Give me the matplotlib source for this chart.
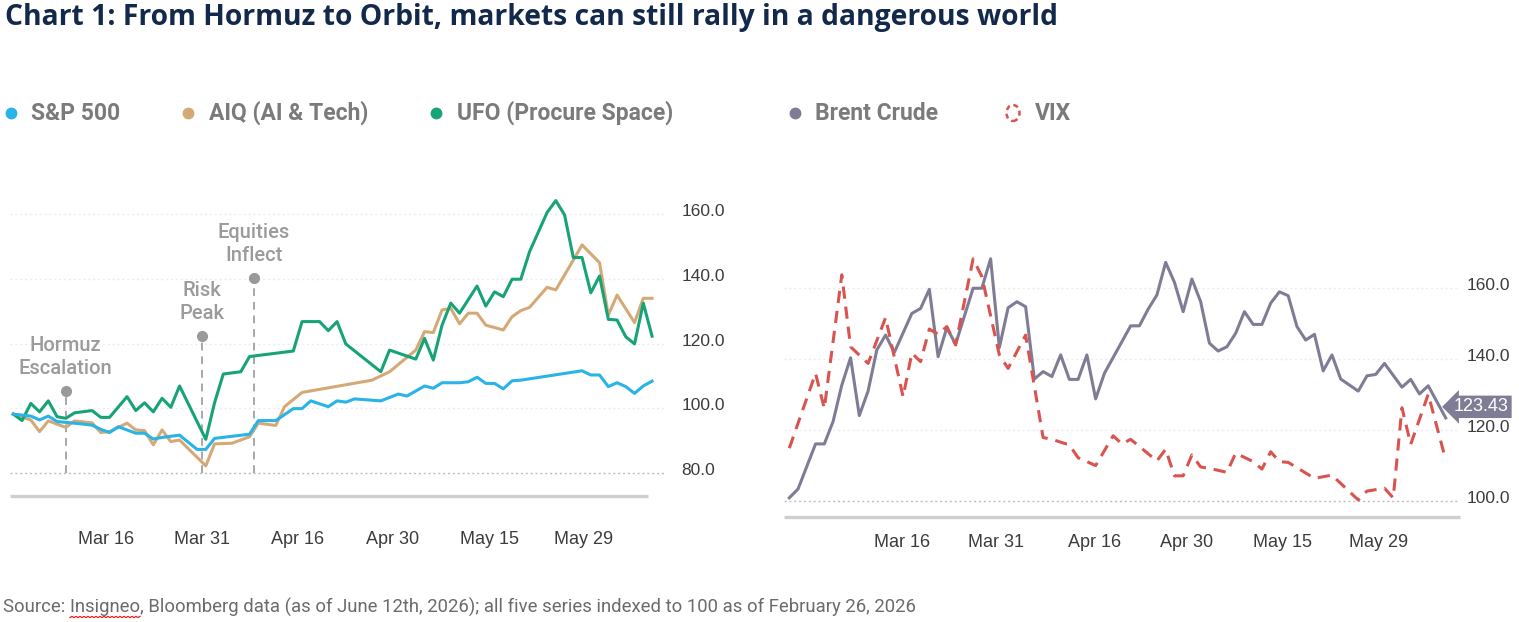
import numpy as np
import matplotlib.pyplot as plt
import matplotlib.transforms as mtransforms
from matplotlib.lines import Line2D
from matplotlib.patches import Ellipse

# ---- left panel (x = trading-day index of each vertex) ----
spx_x = [0, 2, 3, 4, 5, 7, 9, 10, 11, 12, 14, 15, 16, 17, 19, 21, 22, 23, 27, 28,
         30, 32, 33, 34, 36, 37, 38, 39, 42, 44, 45, 47, 48, 49, 51, 52, 53, 54, 55,
         56, 57, 58, 65, 66, 67, 68, 69, 70, 71, 72, 73]
spx_y = [98.2, 97.6, 96.4, 97.6, 95.9, 95.4, 94.8, 93.5, 92.5, 94.3, 92.3, 92.3, 90.5,
         91.0, 91.7, 87.3, 87.3, 90.7, 92.0, 96.2, 96.2, 99.9, 99.9, 102.3, 100.5, 102.3,
         101.9, 102.9, 102.3, 104.4, 103.8, 106.9, 106.2, 107.9, 107.9, 108.2, 109.6,
         107.7, 107.7, 106.0, 108.5, 108.7, 111.6, 110.3, 110.3, 106.7, 107.9, 106.7,
         104.6, 106.9, 108.4]

aiq_x = [0, 2, 3, 4, 6, 7, 9, 10, 11, 13, 14, 15, 16, 17, 18, 19, 22, 23, 25, 27, 28,
         30, 31, 33, 41, 43, 46, 47, 48, 49, 50, 51, 52, 53, 54, 56, 57, 58, 59, 61, 62,
         64, 65, 67, 68, 69, 71, 72, 73]
aiq_y = [98.2, 96.4, 92.8, 96.1, 94.1, 96.1, 95.5, 92.5, 92.8, 95.4, 93.3, 93.1, 88.7,
         93.3, 89.7, 90.2, 82.2, 89.0, 89.2, 91.2, 95.4, 94.7, 100.5, 104.9, 108.7, 111.3,
         118.0, 123.7, 123.4, 130.4, 130.9, 126.1, 129.4, 129.4, 125.7, 124.2, 128.3,
         130.2, 131.2, 137.4, 136.6, 145.8, 150.5, 145.0, 128.8, 135.0, 126.5, 134.0, 134.0]

ufo_x = [0, 1, 2, 3, 4, 5, 6, 7, 9, 10, 11, 13, 14, 15, 16, 17, 18, 19, 22, 23, 24, 26,
         27, 32, 33, 35, 36, 37, 38, 42, 43, 46, 47, 48, 49, 50, 51, 53, 54, 55, 56, 57,
         58, 59, 61, 62, 63, 64, 65, 66, 67, 68, 69, 70, 71, 72, 73]
ufo_y = [98.2, 96.2, 101.5, 98.9, 102.3, 97.4, 96.9, 98.6, 99.3, 97.2, 97.2, 103.6, 99.3,
         101.7, 98.9, 103.1, 100.3, 106.9, 90.4, 101.7, 110.6, 111.3, 116.0, 117.7, 126.8,
         126.8, 124.0, 126.8, 119.9, 111.3, 118.0, 115.2, 121.6, 114.9, 125.7, 132.5,
         129.4, 137.8, 131.6, 136.0, 134.5, 139.9, 139.9, 148.4, 160.5, 164.2, 159.8,
         146.6, 146.6, 135.7, 140.9, 127.5, 127.3, 122.1, 119.9, 132.5, 122.3]

events = ["Hormuz\nEscalation", "Risk\nPeak", "Equities\nInflect"]
event_x = [6.0, 21.6, 27.5]
event_y = [105.3, 122.3, 140.3]

left_tick_pos = [10.59, 21.57, 32.48, 43.39, 54.37, 65.22]

# ---- right panel ----
brent_x = [0, 1, 3, 4, 5, 6, 7, 8, 9, 10, 11, 12, 14, 15, 16, 17, 18, 19, 21, 22, 23, 24,
           25, 26, 27, 28, 29, 30, 31, 32, 33, 34, 35, 36, 39, 40, 41, 42, 43, 44, 45, 46,
           47, 48, 49, 50, 51, 52, 53, 54, 55, 56, 57, 58, 59, 60, 61, 62, 63, 65, 66, 67,
           68, 70, 71, 72, 73, 75]
brent_y = [100.9, 103.4, 116.1, 116.1, 122.4, 132.7, 140.4, 124.1, 131.0, 142.6, 146.8,
           141.9, 152.9, 154.3, 159.7, 140.7, 148.9, 144.2, 160.0, 160.0, 168.3, 143.3,
           154.5, 156.2, 154.8, 134.4, 136.5, 135.1, 141.2, 134.3, 134.3, 141.2, 128.8,
           136.0, 149.4, 149.4, 154.1, 158.1, 167.3, 161.7, 153.4, 162.6, 156.2, 144.5,
           142.3, 143.5, 147.3, 153.4, 149.8, 149.8, 155.8, 159.0, 157.9, 149.2, 145.4,
           147.0, 136.7, 141.2, 134.4, 131.0, 135.3, 135.7, 138.8, 132.1, 134.3, 130.2,
           132.5, 123.43]

vix_x = [0, 3, 4, 6, 7, 9, 11, 13, 14, 15, 16, 17, 18, 19, 21, 22, 24, 25, 27, 29, 30, 32,
         33, 35, 37, 38, 39, 42, 43, 44, 45, 46, 47, 48, 50, 51, 53, 54, 55, 56, 57, 60,
         62, 65, 66, 68, 69, 70, 71, 73, 75]
vix_y = [114.9, 136.0, 126.1, 163.8, 143.5, 138.8, 151.7, 129.4, 141.7, 139.3, 148.5,
         147.0, 149.2, 144.0, 168.3, 163.3, 141.2, 137.4, 146.8, 117.9, 117.4, 115.8,
         112.2, 110.0, 118.4, 116.1, 117.4, 111.3, 114.6, 107.1, 107.1, 113.0, 109.6,
         109.2, 108.1, 113.5, 111.1, 109.0, 113.9, 111.1, 110.9, 106.4, 107.3, 100.3,
         102.8, 103.6, 100.9, 126.3, 116.0, 130.1, 111.6]

right_tick_pos = [12.88, 23.61, 34.92, 45.43, 56.40, 67.37]
tick_labels = ["Mar 16", "Mar 31", "Apr 16", "Apr 30", "May 15", "May 29"]

C_SPX = "#29b3e6"
C_AIQ = "#d4a977"
C_UFO = "#16a377"
C_BRENT = "#7f7d95"
C_VIX = "#d9534f"

TICK_FONT = "Liberation Sans"

fig = plt.figure(figsize=(15.19, 6.22), dpi=100)


def style_axes(ax, yticks, base, pad_x, pad_y):
    for s in ax.spines.values():
        s.set_visible(False)
    for v in yticks:
        if v == base:
            ax.axhline(v, color="#bdbdbd", lw=1.0, ls=(0, (1.5, 2)), zorder=0)
        else:
            ax.axhline(v, color="#ececec", lw=1.0, ls=(0, (1.5, 2)), zorder=0)
    ax.plot([0, 1], [0, 0], transform=ax.transAxes, color="#cfcfcf", lw=2.4,
            clip_on=False, solid_capstyle="butt")
    ax.yaxis.tick_right()
    ax.set_yticks(yticks)
    ax.set_yticklabels([f"{v:.1f}" for v in yticks])
    ax.tick_params(axis="y", length=0, pad=pad_y, labelsize=12.5, labelcolor="#3c3c3c")
    ax.tick_params(axis="x", length=0, pad=pad_x, labelsize=13, labelcolor="#3c3c3c")
    shift = mtransforms.ScaledTranslation(0, 4 / 100, fig.dpi_scale_trans)
    for lab in ax.get_yticklabels():
        lab.set_transform(lab.get_transform() + shift)
    for lab in ax.get_xticklabels() + ax.get_yticklabels():
        lab.set_fontfamily(TICK_FONT)


# left chart
ax1 = fig.add_axes([10 / 1519, 1 - 496 / 622, 655 / 1519, 306 / 622])
ax1.set_xlim(-0.377, 74.48)
ax1.set_ylim(72.89, 167.48)
ax1.set_xticks(left_tick_pos)
ax1.set_xticklabels(tick_labels)
style_axes(ax1, [80, 100, 120, 140, 160], 80, pad_x=25, pad_y=12)
ax1.lines[-1].set_xdata([0, 0.974])

for label, ex, ey in zip(events, event_x, event_y):
    ax1.plot([ex, ex], [80, ey], color="#a8a8a8", lw=1.4, ls=(0, (4, 3)), zorder=1)
    ax1.plot(ex, ey, "o", color="#9a9a9a", ms=7, zorder=2)
    ax1.text(ex, ey + 10.6, label, ha="center", va="center", fontsize=14.5,
             color="#9b9b9b", fontfamily="Roboto", fontweight="medium", linespacing=1.25)

ax1.plot(spx_x, spx_y, color=C_SPX, lw=2.2, zorder=4)
ax1.plot(aiq_x, aiq_y, color=C_AIQ, lw=2.2, zorder=3)
ax1.plot(ufo_x, ufo_y, color=C_UFO, lw=2.2, zorder=3)

# right chart
ax2 = fig.add_axes([784 / 1519, 1 - 517 / 622, 676 / 1519, 272 / 622])
ax2.set_xlim(-0.6055, 76.63)
ax2.set_ylim(95.49, 172.2)
ax2.set_xticks(right_tick_pos)
ax2.set_xticklabels(tick_labels)
style_axes(ax2, [100, 120, 140, 160], 100, pad_x=12, pad_y=5)

ax2.plot(brent_x, brent_y, color=C_BRENT, lw=2.2, zorder=3)
ax2.plot(vix_x, vix_y, color=C_VIX, lw=2.2, ls=(0, (4, 2.6)), zorder=4)
ax2.annotate(f"{brent_y[-1]:.2f}", xy=(brent_x[-1], brent_y[-1]), xytext=(6, 8),
             textcoords="offset points", ha="left", va="center", fontsize=13,
             color="white", fontfamily=TICK_FONT, zorder=6,
             bbox=dict(boxstyle="larrow,pad=0.15", fc=C_BRENT, ec="none"))

# title
fig.text(5 / 1519, 1 - 17 / 622, "Chart 1: From Hormuz to Orbit, markets can still rally in a dangerous world",
         ha="left", va="center", fontsize=20.35, fontweight="bold", color="#13294b",
         fontfamily="Open Sans")

# legend
leg_names = ["S&P 500", "AIQ (AI & Tech)", "UFO (Procure Space)", "Brent Crude", "VIX"]
leg_colors = [C_SPX, C_AIQ, C_UFO, C_BRENT, C_VIX]
leg_dot_px = [10.5, 188, 436, 795, 1013]
leg_text_px = [31, 209, 457, 815, 1035]
ly = 1 - 113 / 622
for name, col, dx, tx in zip(leg_names, leg_colors, leg_dot_px, leg_text_px):
    if name == "VIX":
        fig.add_artist(Ellipse((dx / 1519, ly), 13 / 1519, 16 / 622, fill=False,
                               ec=col, lw=1.8, ls=(0, (2, 1.5)), transform=fig.transFigure))
    else:
        fig.add_artist(Line2D([dx / 1519], [ly], marker="o", ms=7.5, color=col,
                              transform=fig.transFigure))
    fig.text(tx / 1519, ly, name, ha="left", va="center", fontsize=16.5,
             fontweight="bold", color="#7b7b7b", fontfamily="Roboto")

# source line with the spell-check squiggle under "Insigneo"
src_y = 1 - 607 / 622
src_kw = dict(ha="left", va="center", fontsize=13.3, color="#6b6b6b", fontfamily="Roboto")
src = fig.text(3 / 1519, src_y,
               "Source: Insigneo, Bloomberg data (as of June 12th, 2026); all five series indexed to 100 as of February 26, 2026",
               **src_kw)
fig.canvas.draw()
r = fig.canvas.get_renderer()
pre = fig.text(3 / 1519, src_y, "Source: ", **src_kw)
word = fig.text(3 / 1519, src_y, "Source: Insigneo", **src_kw)
x0 = pre.get_window_extent(r).x1
x1 = word.get_window_extent(r).x1
ybase = src.get_window_extent(r).y0
pre.remove()
word.remove()
sx = np.arange(x0, x1 + 1, 2.0)
sy = ybase - 1 + 1.2 * (np.arange(len(sx)) % 2)
fig.add_artist(Line2D(sx / 1519, sy / 622, color="#e02020", lw=0.9, transform=fig.transFigure))

fig.savefig("out.png", dpi=100)
